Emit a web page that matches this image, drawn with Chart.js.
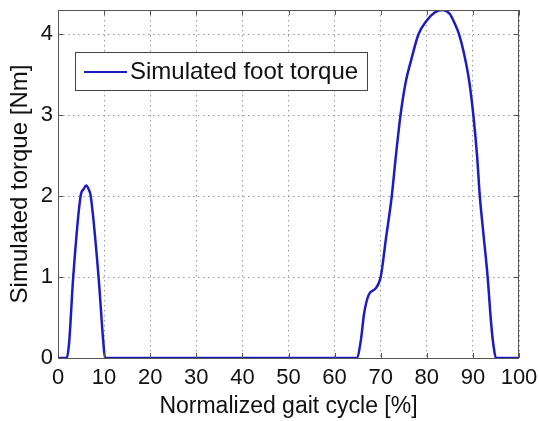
<!DOCTYPE html>
<html>
<head>
<meta charset="utf-8">
<script src="https://cdn.jsdelivr.net/npm/chart.js@4"></script>
<style>
  html, body { margin: 0; padding: 0; background: #fff; }
  #wrap { width: 539px; height: 421px; }
</style>
</head>
<body>
<div id="wrap"><canvas id="chart"></canvas></div>
<script>
const gaitCycle = [0, 1.9, 2.4, 3.3, 4.9, 5.6, 6.1, 6.6, 7.1, 8.8, 9.85, 10.2,
  64.8, 65.7, 66.4, 67.4, 68.9, 70, 71.1, 72.4, 73.3, 74.3, 75.4, 76.6, 78.2, 80, 81.7,
  83.5, 85, 86, 87, 88, 89.2, 90.1, 90.9, 91.5, 92.2, 93.2, 94, 94.5, 95, 100];
const torque = [0, 0, 0.18, 1.0, 2.0, 2.09, 2.13, 2.09, 2.0, 1.0, 0.18, 0,
  0, 0.22, 0.55, 0.78, 0.86, 1.0, 1.46, 2.0, 2.5, 3.0, 3.4, 3.68, 4.0, 4.17, 4.27,
  4.3, 4.25, 4.14, 4.0, 3.78, 3.42, 3.0, 2.5, 2.0, 1.58, 1.0, 0.4, 0.14, 0, 0];
const xTicks = [0, 10, 20, 30, 40, 50, 60, 70, 80, 90, 100];
const yTicks = [0, 1, 2, 3, 4];
const seriesName = "Simulated foot torque";

const FONT = "'Liberation Sans', Arial, sans-serif";
const lineColor = "#1c1cc4";

// box round the plot, inner tick marks and the legend
const framePlugin = {
  id: "frame",
  afterDraw: (chart) => {
    const { ctx, chartArea: a, scales } = chart;
    ctx.save();
    ctx.strokeStyle = "#555";
    ctx.lineWidth = 1;
    ctx.strokeRect(a.left + 0.5, a.top + 0.5, a.right - a.left - 1, a.bottom - a.top);
    ctx.beginPath();
    xTicks.forEach((v) => {
      const px = Math.round(scales.x.getPixelForValue(v)) + 0.5;
      ctx.moveTo(px, a.bottom); ctx.lineTo(px, a.bottom - 5);
      ctx.moveTo(px, a.top); ctx.lineTo(px, a.top + 5);
    });
    yTicks.forEach((v) => {
      const py = Math.round(scales.y.getPixelForValue(v)) + 0.5;
      ctx.moveTo(a.left, py); ctx.lineTo(a.left + 5, py);
      ctx.moveTo(a.right, py); ctx.lineTo(a.right - 5, py);
    });
    ctx.stroke();

    // legend
    const lx = 75, ly = 52, lw = 292, lh = 38;
    ctx.fillStyle = "#fff";
    ctx.fillRect(lx, ly, lw, lh);
    ctx.strokeStyle = "#444";
    ctx.strokeRect(lx + 0.5, ly + 0.5, lw, lh);
    ctx.strokeStyle = lineColor;
    ctx.lineWidth = 2;
    ctx.beginPath();
    ctx.moveTo(84, ly + lh / 2 + 1); ctx.lineTo(127, ly + lh / 2 + 1);
    ctx.stroke();
    ctx.fillStyle = "#111";
    ctx.font = `24px ${FONT}`;
    ctx.textBaseline = "middle";
    ctx.fillText(seriesName, 130, ly + lh / 2 + 1);
    ctx.restore();
  },
};

new Chart(document.getElementById("chart"), {
  type: "line",
  data: {
    datasets: [{
      label: seriesName,
      data: gaitCycle.map((x, i) => ({ x, y: torque[i] })),
      borderColor: lineColor,
      borderWidth: 2.5,
      pointRadius: 0,
      cubicInterpolationMode: "monotone",
      fill: false,
    }],
  },
  options: {
    responsive: true,
    maintainAspectRatio: false,
    animation: false,
    layout: { padding: { left: 0, right: 20, top: 10, bottom: 0 } },
    plugins: { legend: { display: false }, tooltip: { enabled: false } },
    scales: {
      x: {
        type: "linear",
        min: 0,
        max: 100,
        afterBuildTicks: (axis) => { axis.ticks = xTicks.map((v) => ({ value: v })); },
        afterFit: (axis) => {
          axis.height = 63;
          axis.paddingLeft = 0;
          axis.paddingRight = 0;
        },
        grid: { color: "#999", lineWidth: 1, drawTicks: false },
        border: { display: false, dash: [1.5, 3.5] },
        ticks: { color: "#111", font: { family: FONT, size: 22 }, padding: 7, maxRotation: 0 },
        title: { display: true, text: "Normalized gait cycle [%]", color: "#111",
                 font: { family: FONT, size: 23 }, padding: { top: 0, bottom: 1 } },
      },
      y: {
        min: 0,
        max: 4.3,
        afterBuildTicks: (axis) => { axis.ticks = yTicks.map((v) => ({ value: v })); },
        afterFit: (axis) => {
          axis.width = 58;
          axis.paddingTop = 0;
          axis.paddingBottom = 0;
        },
        grid: { color: "#999", lineWidth: 1, drawTicks: false },
        border: { display: false, dash: [1.5, 3.5] },
        ticks: { color: "#111", font: { family: FONT, size: 22 }, padding: 5 },
        title: { display: true, text: "Simulated torque [Nm]", color: "#111",
                 font: { family: FONT, size: 24 }, padding: { top: 6, bottom: 0 } },
      },
    },
  },
  plugins: [framePlugin],
});
</script>
</body>
</html>
